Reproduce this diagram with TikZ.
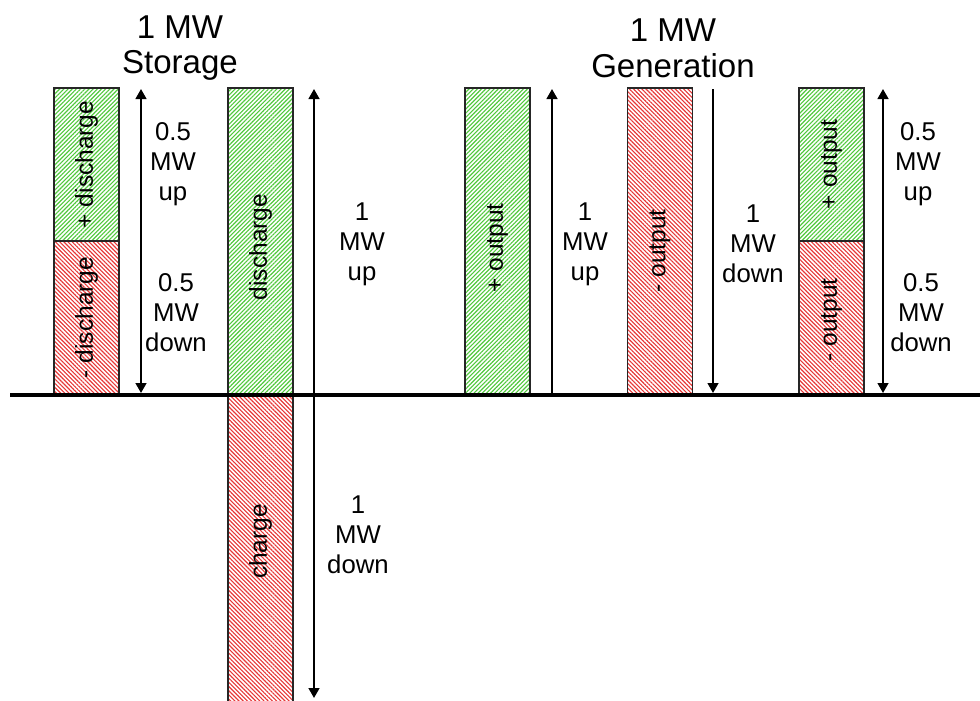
\documentclass[tikz,border=0pt]{standalone}
\usepackage{fontspec}
\setmainfont{Liberation Sans}
\usetikzlibrary{arrows.meta, positioning, patterns.meta}
\definecolor{hatchgreen}{RGB}{80,200,60}
\definecolor{hatchred}{RGB}{230,55,55}

\begin{document}
\begin{tikzpicture}[x=0.025cm, y=-0.025cm,
	>={Triangle[length=2.5mm, width=2.7mm]},
	block/.style={draw=black!85, line width=0.8pt, minimum width=1.625cm, inner sep=0pt},
	upblock/.style={block, pattern={Lines[angle=45, distance=2.1pt, line width=0.8pt]}, pattern color=hatchgreen},
	downblock/.style={block, pattern={Lines[angle=-45, distance=2.1pt, line width=0.8pt]}, pattern color=hatchred},
	blocktext/.style={rotate=90, font=\fontsize{17.4}{21}\selectfont},
	amount/.style={align=center, font=\fontsize{18.3}{21.3}\selectfont},
	heading/.style={align=center, font=\fontsize{23.5}{25.5}\selectfont},
	dimarrow/.style={line width=1.4pt}]
	\useasboundingbox (0,0) rectangle (980,700);

	% Headings
	\node[heading] (storage) at (180,48) {1 MW\\Storage};
	\node[heading] (generation) at (673,48) {1 MW\\Generation};

	% Storage: half up / half down
	\node[upblock, minimum height=3.825cm] (sup) at (86.5,164.5) {};
	\node[downblock, minimum height=3.825cm] (sdown) at (86.5,317.5) {};
	\node[blocktext] at (sup) {+ discharge};
	\node[blocktext] at (sdown) {- discharge};

	% Storage: full discharge / full charge
	\node[upblock, minimum height=7.65cm] (dis) at (260.5,241) {};
	\node[downblock, minimum height=7.675cm] (chg) at (260.5,549.5) {};
	\node[blocktext] at ([yshift=-0.15cm]dis) {discharge};
	\node[blocktext] at ([yshift=0.2cm]chg) {charge};

	% Generation blocks
	\node[upblock, minimum height=7.65cm] (gup) at (497.5,241) {};
	\node[downblock, minimum height=7.65cm] (gdown) at (660,241) {};
	\node[blocktext] at ([yshift=-0.17cm]gup) {+ output};
	\node[blocktext] at ([yshift=-0.25cm]gdown) {- output};
	\node[upblock, minimum height=3.825cm] (hup) at (831.5,164.5) {};
	\node[downblock, minimum height=3.825cm] (hdown) at (831.5,317.5) {};
	\node[blocktext] at (hup) {+ output};
	\node[blocktext] at ([yshift=-0.06cm]hdown) {- output};

	% Zero line
	\coordinate (zw) at (10,395);
	\coordinate (ze) at (980,395);
	\draw[line width=3.5pt] (zw) -- (ze);

	% Arrow end points
	\coordinate (a1t) at (141,89);   \coordinate (a1b) at (141,393);
	\coordinate (a2t) at (314,89);   \coordinate (a2m) at (314,395);
	\coordinate (a2b) at (314,698);
	\coordinate (a3t) at (552,89);   \coordinate (a3b) at (552,393);
	\coordinate (a4t) at (713,89);   \coordinate (a4b) at (713,393);
	\coordinate (a5t) at (883,89);   \coordinate (a5b) at (883,393);

	% Arrows
	\draw[dimarrow, <->] (a1b) -- (a1t);
	\draw[dimarrow, ->] (a2m) -- (a2t);
	\draw[dimarrow, ->] (a2m) -- (a2b);
	\draw[dimarrow, ->] (a3b) -- (a3t);
	\draw[dimarrow, ->] (a4t) -- (a4b);
	\draw[dimarrow, <->] (a5b) -- (a5t);

	% Amounts
	\node[amount] (l1u) at (173,164) {0.5\\MW\\up};
	\node[amount] (l1d) at (176,313) {0.5\\MW\\down};
	\node[amount] (l2u) at (362,244) {1\\MW\\up};
	\node[amount] (l2d) at (358,535) {1\\MW\\down};
	\node[amount] (l3u) at (585,244) {1\\MW\\up};
	\node[amount] (l4d) at (753,244) {1\\MW\\down};
	\node[amount] (l5u) at (918,164) {0.5\\MW\\up};
	\node[amount] (l5d) at (921,313) {0.5\\MW\\down};
\end{tikzpicture}
\end{document}
